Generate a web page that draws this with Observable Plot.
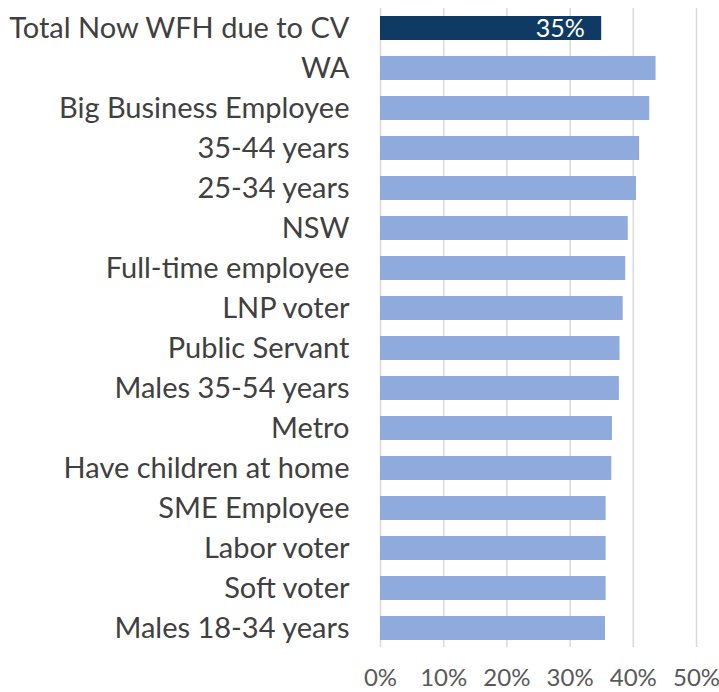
<!DOCTYPE html>
<html><head><meta charset="utf-8">
<script src="https://cdn.jsdelivr.net/npm/d3@7"></script>
<script src="https://cdn.jsdelivr.net/npm/@observablehq/plot@0.6"></script>
<style>body{margin:0;background:#fff}</style>
</head><body><div id="chart"></div>
<script>
const categories = ["Total Now WFH due to CV","WA","Big Business Employee","35-44 years","25-34 years","NSW","Full-time employee","LNP voter","Public Servant","Males 35-54 years","Metro","Have children at home","SME Employee","Labor voter","Soft voter","Males 18-34 years"];
const values = [0.35,0.436,0.426,0.41,0.405,0.392,0.388,0.384,0.379,0.378,0.367,0.366,0.357,0.357,0.357,0.356];
const highlight = "Total Now WFH due to CV";
const xTicks = [0,0.1,0.2,0.3,0.4,0.5];
const fmt = d3.format(".0%");
const data = categories.map((c,i)=>({category:c, value:values[i]}));
const topRow = data.filter(d=>d.category===highlight);
const restRows = data.filter(d=>d.category!==highlight);
const chart = Plot.plot({
  width:719, height:692, marginLeft:380, marginRight:23, marginTop:0, marginBottom:36,
  style:{fontFamily:"Lato", background:"#fff"},
  x:{domain:[0,0.5], label:null},
  y:{domain:categories, padding:0.4, label:null},
  marks:[
    Plot.gridX(xTicks,{stroke:"#d9d9d9", strokeOpacity:1, strokeWidth:1.5, insetTop:8, insetBottom:9}),
    Plot.barX(restRows,{x:"value", y:"category", fill:"#8faadc"}),
    Plot.barX(topRow,{x:"value", y:"category", fill:"#0e3a64"}),
    Plot.axisX({ticks:xTicks, tickFormat:fmt, tickSize:0, tickPadding:12, fontSize:24, fill:"#595959", label:null}),
    Plot.axisY({tickSize:0, tickPadding:31, fontSize:29, fill:"#404040", label:null}),
    Plot.text(topRow,{x:"value", y:"category", text:d=>fmt(d.value), textAnchor:"end", dx:-17, fill:"white", fontSize:25})
  ]
});
document.getElementById("chart").appendChild(chart);
</script>
</body></html>
